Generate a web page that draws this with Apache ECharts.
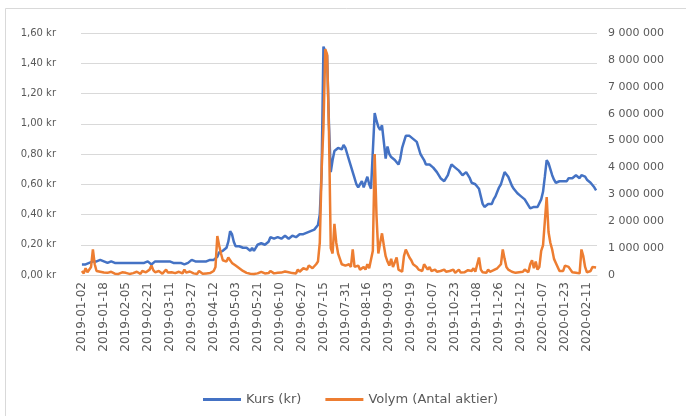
<!DOCTYPE html>
<html><head><meta charset="utf-8">
<script src="https://cdn.jsdelivr.net/npm/echarts@6/dist/echarts.min.js"></script>
<style>html,body{margin:0;padding:0;background:#fff}#c{width:686px;height:416px}</style>
</head><body><div id="c"></div>
<script>
// Trading days from 2019-01-02 (holidays and days without data removed)
const startDate = '2019-01-02';
const skipDates = ['2019-01-01','2019-04-19','2019-04-22','2019-05-01','2019-05-30','2019-06-06','2019-06-21','2019-12-24','2019-12-25','2019-12-26','2019-12-31','2020-01-01','2020-01-06','2020-02-03'];
const dayCount = 282;

const kurs = [
0.07,0.06,0.07,0.08,0.08,
0.09,0.09,0.10,0.09,0.09,0.10,0.09,0.09,
0.09,0.08,0.08,0.09,0.08,0.08,0.07,0.08,0.08,0.08,0.07,0.08,
0.08,0.08,0.09,0.08,0.08,0.08,0.09,0.08,0.08,0.08,0.08,0.09,
0.08,0.07,0.08,0.09,0.08,0.09,0.09,0.09,0.08,0.09,0.09,0.09,
0.09,0.08,0.08,0.08,0.07,0.08,0.08,0.07,0.07,0.08,0.09,0.10,
0.09,0.09,0.10,0.09,0.09,0.09,0.08,0.09,0.09,0.10,0.10,0.10,
0.11,0.12,0.15,0.14,0.16,0.17,0.18,0.22,0.29,0.27,0.22,0.19,
0.18,0.19,0.18,0.18,0.17,0.18,0.17,0.16,0.18,0.16,0.18,0.20,
0.20,0.21,0.20,0.20,0.21,0.22,0.25,0.25,0.24,0.23,0.25,0.25,
0.24,0.25,0.26,0.25,0.24,0.25,0.26,0.25,0.25,0.26,0.27,0.26,
0.27,0.27,0.28,0.28,0.29,0.28,0.30,0.31,0.33,0.40,0.68,
1.51,1.48,1.45,1.00,0.68,0.76,0.82,
0.83,0.84,0.85,0.83,0.86,0.84,0.80,0.76,0.72,0.68,0.64,0.60,
0.58,0.60,0.62,0.58,0.57,0.65,0.60,0.57,0.56,
1.07,1.02,0.98,0.96,0.99,0.88,0.77,0.85,0.80,0.78,0.79,
0.76,0.75,0.73,0.77,0.84,0.88,0.92,0.93,0.92,0.91,0.90,0.90,0.88,0.84,
0.80,0.78,0.76,0.73,0.72,0.73,0.74,0.71,0.70,0.68,0.66,0.64,0.63,0.62,0.64,0.66,
0.70,0.73,0.72,0.71,0.70,0.69,0.68,0.66,0.67,0.68,0.68,0.64,
0.61,0.60,0.60,0.59,0.57,0.52,0.47,0.45,0.46,0.47,0.46,0.47,
0.50,0.52,0.55,0.58,0.60,0.64,0.68,0.67,0.65,0.62,0.59,0.57,
0.56,0.54,0.53,0.52,0.52,0.50,0.48,0.46,0.44,0.44,0.45,0.44,0.45,0.46,
0.50,0.55,0.65,0.76,0.74,0.70,0.66,0.63,0.61,0.60,0.62,0.61,
0.62,0.63,0.62,0.64,0.65,0.64,0.65,0.66,0.65,0.64,0.66,0.67,0.65,0.63,0.62,0.61,0.60,0.58,0.56
];

const volym = [
150000,60000,250000,100000,50000,300000,950000,400000,150000,80000,120000,60000,90000,
50000,80000,40000,120000,60000,50000,90000,40000,70000,100000,50000,80000,
60000,40000,90000,70000,50000,120000,60000,40000,150000,80000,100000,150000,
200000,350000,180000,100000,60000,150000,80000,50000,120000,200000,90000,60000,
100000,150000,70000,50000,120000,80000,60000,200000,90000,50000,130000,70000,
60000,100000,40000,150000,80000,50000,90000,60000,120000,70000,50000,150000,
300000,1450000,1100000,800000,550000,600000,500000,650000,550000,450000,400000,350000,
300000,250000,200000,150000,120000,80000,60000,50000,90000,40000,80000,60000,
50000,120000,80000,60000,100000,70000,150000,90000,60000,120000,80000,50000,
90000,60000,130000,80000,100000,150000,70000,110000,60000,200000,120000,180000,
250000,300000,200000,350000,300000,250000,280000,400000,500000,1200000,3900000,
5500000,8400000,8200000,5400000,1000000,800000,1900000,
1200000,800000,600000,400000,450000,350000,300000,400000,300000,950000,300000,250000,
350000,200000,150000,300000,200000,400000,250000,300000,900000,
4500000,2200000,800000,1200000,1550000,1100000,700000,500000,350000,600000,300000,
250000,650000,200000,150000,120000,700000,950000,800000,650000,550000,400000,450000,300000,200000,
250000,150000,400000,350000,200000,300000,150000,100000,200000,120000,80000,150000,100000,200000,120000,90000,
150000,100000,200000,80000,120000,200000,90000,150000,100000,60000,180000,120000,
150000,250000,120000,100000,650000,200000,100000,150000,80000,200000,120000,100000,
180000,120000,250000,300000,400000,950000,600000,300000,200000,150000,120000,100000,
80000,150000,100000,60000,120000,200000,150000,100000,400000,550000,250000,500000,200000,300000,
900000,1100000,2000000,2900000,1600000,1200000,950000,600000,450000,300000,150000,100000,
150000,350000,400000,300000,200000,100000,150000,80000,120000,60000,950000,700000,300000,100000,80000,150000,300000,250000,280000
];

const seriesNames = ['Kurs (kr)', 'Volym (Antal aktier)'];

function buildDates(start, n, skip) {
  const out = [];
  const d = new Date(start + 'T00:00:00Z');
  while (out.length < n) {
    const s = d.toISOString().slice(0, 10);
    const wd = d.getUTCDay();
    if (wd !== 0 && wd !== 6 && skip.indexOf(s) < 0) out.push(s);
    d.setUTCDate(d.getUTCDate() + 1);
  }
  return out;
}
const dates = buildDates(startDate, dayCount, skipDates);

const chart = echarts.init(document.getElementById('c'), null, {renderer: 'canvas'});
const txt = '#595959';
const ff = '"DejaVu Sans", sans-serif';
chart.setOption({
  animation: false,
  backgroundColor: '#fff',
  graphic: [{type: 'rect', shape: {x: 5.5, y: 8.5, width: 700, height: 420}, style: {fill: 'none', stroke: '#d9d9d9', lineWidth: 1}, silent: true}],
  grid: {left: 81, right: 89, top: 33, bottom: 141},
  legend: {
    data: seriesNames, left: 198, top: 388, icon: 'rect', itemWidth: 38, itemHeight: 3, itemGap: 24,
    textStyle: {color: txt, fontSize: 13, fontFamily: ff}
  },
  xAxis: {
    type: 'category', data: dates, boundaryGap: true,
    axisLine: {show: true, lineStyle: {color: '#d9d9d9'}},
    axisTick: {show: false},
    axisLabel: {rotate: 90, interval: 11, color: txt, fontSize: 12, fontFamily: ff, margin: 7}
  },
  yAxis: [{
    type: 'value', min: 0, max: 1.6, interval: 0.2,
    axisLine: {show: false}, axisTick: {show: false},
    splitLine: {lineStyle: {color: '#d9d9d9'}},
    axisLabel: {color: txt, fontSize: 10, fontFamily: ff, margin: 25,
      formatter: v => v.toFixed(2).replace('.', ',') + ' kr'}
  }, {
    type: 'value', min: 0, max: 9000000, interval: 1000000,
    axisLine: {show: false}, axisTick: {show: false}, splitLine: {show: false},
    axisLabel: {color: txt, fontSize: 11, fontFamily: ff, margin: 11,
      formatter: v => String(v).replace(/\B(?=(\d{3})+(?!\d))/g, ' ')}
  }],
  series: [{
    name: seriesNames[0], type: 'line', yAxisIndex: 0, data: kurs, showSymbol: false,
    lineStyle: {color: '#4472C4', width: 2.5}, itemStyle: {color: '#4472C4'}
  }, {
    name: seriesNames[1], type: 'line', yAxisIndex: 1, data: volym, showSymbol: false,
    lineStyle: {color: '#ED7D31', width: 2.5}, itemStyle: {color: '#ED7D31'}
  }]
});
</script></body></html>
